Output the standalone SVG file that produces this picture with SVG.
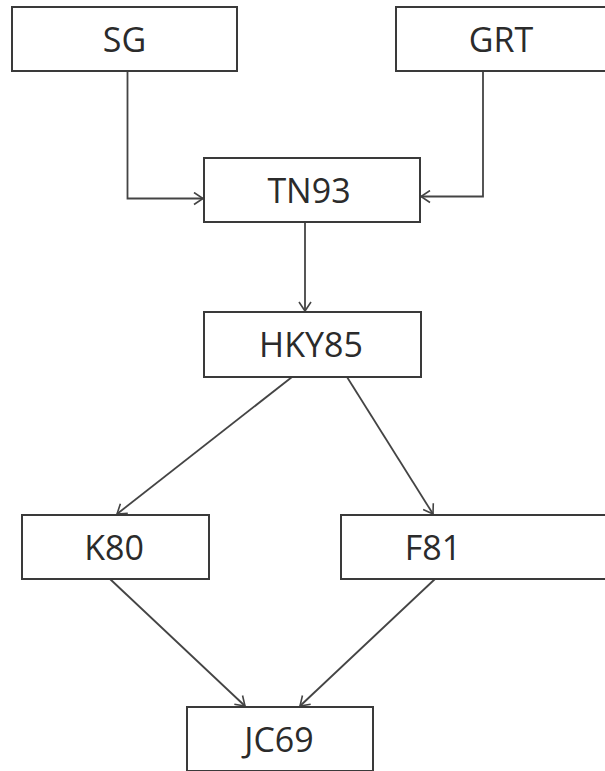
<svg xmlns="http://www.w3.org/2000/svg" width="605" height="771" viewBox="0 0 605 771">
  <defs>
    <marker id="arrow" markerWidth="14" markerHeight="14" refX="11" refY="7" orient="auto" markerUnits="userSpaceOnUse">
      <path d="M2,1 L11,7 L2,13" fill="none" stroke="#444" stroke-width="1.6"/>
    </marker>
    <style>
      .box { fill: #fff; stroke: #3a3a3a; stroke-width: 2; }
      .label { font-family: "Open Sans", "Liberation Sans", sans-serif; font-size: 34px; fill: #2b2b2b; text-anchor: middle; }
      .edge { fill: none; stroke: #444; stroke-width: 1.8; marker-end: url(#arrow); }
    </style>
  </defs>
  <rect width="605" height="771" fill="#fff"/>

  <g id="connectors">
    <path class="edge" d="M127.5,71 V198.5 H203"/>
    <path class="edge" d="M483,71 V196.5 H421"/>
    <path class="edge" d="M305,222 V311"/>
    <path class="edge" d="M292,377 L117,514"/>
    <path class="edge" d="M347,377 L433,514"/>
    <path class="edge" d="M110,579 L245,706"/>
    <path class="edge" d="M435,579 L300,706"/>
  </g>

  <g id="node-SG">
    <rect class="box" x="12" y="7" width="225" height="64"/>
    <text class="label" x="124.5" y="52">SG</text>
  </g>
  <g id="node-GRT">
    <rect class="box" x="396" y="7" width="212" height="64"/>
    <text class="label" x="501" y="52">GRT</text>
  </g>
  <g id="node-TN93">
    <rect class="box" x="204" y="158" width="216" height="64"/>
    <text class="label" x="309" y="203">TN93</text>
  </g>
  <g id="node-HKY85">
    <rect class="box" x="204" y="312" width="217" height="65"/>
    <text class="label" x="311" y="357">HKY85</text>
  </g>
  <g id="node-K80">
    <rect class="box" x="22" y="515" width="187" height="64"/>
    <text class="label" x="114" y="560">K80</text>
  </g>
  <g id="node-F81">
    <rect class="box" x="341" y="515" width="267" height="64"/>
    <text class="label" x="433" y="560">F81</text>
  </g>
  <g id="node-JC69">
    <rect class="box" x="187" y="707" width="186" height="64"/>
    <text class="label" x="279" y="752">JC69</text>
  </g>
</svg>
